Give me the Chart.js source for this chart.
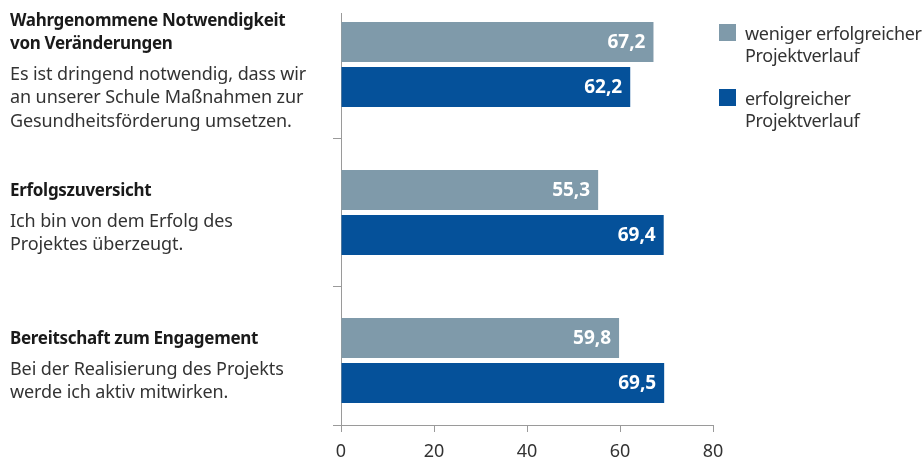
<!DOCTYPE html>
<html>
<head>
<meta charset="utf-8">
<script src="https://cdn.jsdelivr.net/npm/chart.js@4/dist/chart.umd.min.js"></script>
<style>
  html, body { margin: 0; padding: 0; background: #fff; }
  #wrap { position: relative; width: 924px; height: 459px; font-family: "Noto Sans", sans-serif; }
  #chart { position: absolute; left: 0; top: 0; }
  .cat { position: absolute; left: 10px; transform: translateY(-50%); color: #333; font-size: 18px; line-height: 23.5px; letter-spacing: -0.1px; white-space: nowrap; }
  .cat .title { font-weight: bold; color: #1a1a1a; margin-bottom: 7px; font-size: 17px; letter-spacing: -0.3px; }
  #legend { position: absolute; left: 719px; top: 22px; font-size: 18px; line-height: 22px; color: #333; letter-spacing: -0.3px; white-space: nowrap; }
  .item { position: relative; padding-left: 26px; margin-bottom: 21px; }
  .item .box { position: absolute; left: 0; top: 2px; width: 17px; height: 17px; }
</style>
</head>
<body>
<div id="wrap">
  <canvas id="chart" width="924" height="459"></canvas>
  <div id="labels"></div>
  <div id="legend"></div>
</div>
<script>
// category labels: bold title lines + statement lines
const catTitles = [
  ['Wahrgenommene Notwendigkeit', 'von Veränderungen'],
  ['Erfolgszuversicht'],
  ['Bereitschaft zum Engagement']
];
const catTexts = [
  ['Es ist dringend notwendig, dass wir', 'an unserer Schule Maßnahmen zur', 'Gesundheitsförderung umsetzen.'],
  ['Ich bin von dem Erfolg des', 'Projektes überzeugt.'],
  ['Bei der Realisierung des Projekts', 'werde ich aktiv mitwirken.']
];

const seriesNames = [['weniger erfolgreicher', 'Projektverlauf'], ['erfolgreicher', 'Projektverlauf']];
const seriesColors = ['#7f9aaa', '#05519a'];

const lessSuccessful = [67.2, 55.3, 59.8];
const successful = [62.2, 69.4, 69.5];

const xTicks = [0, 20, 40, 60, 80];

// index axis range (category index units), boundary ticks between groups
const yMin = -0.348;
const yMax = 2.436;
const yTicks = [0.5, 1.5, yMax];

// bar slot in index units -> category percentage against the smallest tick gap
const slot = 45 / 148;
const minGap = Math.min(1, yMax - 1.5);

const toPoints = arr => arr.map((v, i) => ({ x: v, y: i }));

const valueLabels = {
  id: 'valueLabels',
  afterDatasetsDraw(chart) {
    const c = chart.ctx;
    c.save();
    c.font = 'bold 19px "Noto Sans"';
    c.fillStyle = '#fff';
    c.textAlign = 'right';
    c.textBaseline = 'middle';
    chart.data.datasets.forEach((ds, di) => {
      chart.getDatasetMeta(di).data.forEach((bar, i) => {
        const txt = ds.data[i].x.toFixed(1).replace('.', ',');
        c.fillText(txt, bar.x - 8, bar.y + 1);
      });
    });
    c.restore();
  }
};

const placeLabels = {
  id: 'placeLabels',
  afterRender(chart) {
    const yScale = chart.scales.y;
    const box = document.getElementById('labels');
    if (box.childElementCount) return;
    catTitles.forEach((t, i) => {
      const d = document.createElement('div');
      d.className = 'cat';
      d.style.top = (yScale.getPixelForValue(i) + 5) + 'px';
      d.innerHTML = '<div class="title">' + t.join('<br>') + '</div>' +
        '<div>' + catTexts[i].join('<br>') + '</div>';
      box.appendChild(d);
    });
  }
};

new Chart(document.getElementById('chart'), {
  type: 'bar',
  data: {
    datasets: [
      { label: seriesNames[0].join(' '), data: toPoints(lessSuccessful), backgroundColor: seriesColors[0] },
      { label: seriesNames[1].join(' '), data: toPoints(successful), backgroundColor: seriesColors[1] }
    ]
  },
  options: {
    indexAxis: 'y',
    responsive: false,
    animation: false,
    devicePixelRatio: 1,
    categoryPercentage: 2 * slot / minGap,
    barPercentage: 40 / 45,
    layout: { padding: { left: 333, right: 211, top: 13, bottom: -13 } },
    plugins: { legend: { display: false }, tooltip: { enabled: false } },
    scales: {
      x: {
        type: 'linear',
        min: 0,
        max: 80,
        afterBuildTicks: s => { s.ticks = xTicks.map(v => ({ value: v })); },
        grid: { drawOnChartArea: false, tickLength: 7, color: '#9a9a9a' },
        border: { color: '#9a9a9a' },
        ticks: { font: { family: 'Noto Sans', size: 18, lineHeight: 1 }, color: '#333', padding: 11 }
      },
      y: {
        type: 'linear',
        reverse: true,
        offset: false,
        min: yMin,
        max: yMax,
        afterBuildTicks: s => { s.ticks = yTicks.map(v => ({ value: v })); },
        grid: { drawOnChartArea: false, offset: false, tickLength: 8, color: '#9a9a9a' },
        border: { color: '#9a9a9a' },
        ticks: { display: false }
      }
    }
  },
  plugins: [valueLabels, placeLabels]
});

const legend = document.getElementById('legend');
seriesNames.forEach((n, i) => {
  const d = document.createElement('div');
  d.className = 'item';
  d.innerHTML = '<span class="box" style="background:' + seriesColors[i] + '"></span>' + n.join('<br>');
  legend.appendChild(d);
});
</script>
</body>
</html>
